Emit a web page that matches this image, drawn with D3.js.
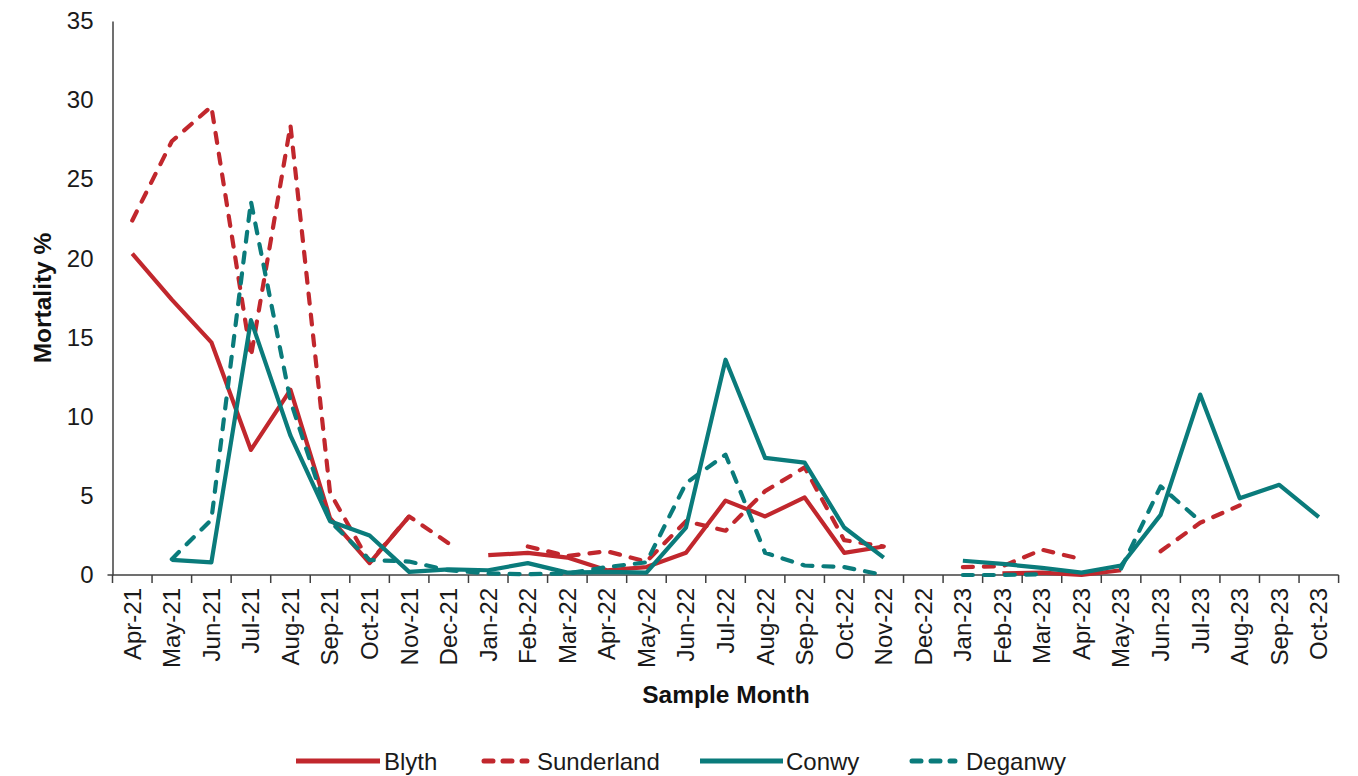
<!DOCTYPE html>
<html>
<head>
<meta charset="utf-8">
<script src="https://cdn.jsdelivr.net/npm/d3@7"></script>
<style>
  html, body { margin: 0; padding: 0; background: #fff; }
  svg { display: block; font-family: "Liberation Sans", Arial, sans-serif; }
</style>
</head>
<body>
<svg id="chart" width="1358" height="776"></svg>
<script>
const months = ["Apr-21","May-21","Jun-21","Jul-21","Aug-21","Sep-21","Oct-21","Nov-21","Dec-21",
  "Jan-22","Feb-22","Mar-22","Apr-22","May-22","Jun-22","Jul-22","Aug-22","Sep-22","Oct-22","Nov-22","Dec-22",
  "Jan-23","Feb-23","Mar-23","Apr-23","May-23","Jun-23","Jul-23","Aug-23","Sep-23","Oct-23"];

const blyth = [20.3,17.4,14.7,7.9,11.7,3.6,0.75,3.7,null,
  1.25,1.4,1.1,0.3,0.5,1.4,4.7,3.7,4.9,1.4,1.8,null,
  null,0.1,0.15,0.0,0.3,null,null,null,null,null];

const sunderland = [22.4,27.4,29.6,13.8,28.4,5.2,0.8,3.7,2.0,
  null,1.8,1.2,1.5,0.85,3.4,2.8,5.3,6.8,2.2,1.8,null,
  0.5,0.55,1.6,1.0,null,1.5,3.3,4.4,null,null];

const conwy = [null,0.95,0.8,16.1,8.8,3.4,2.5,0.2,0.35,
  0.3,0.75,0.15,0.2,0.15,3.0,13.6,7.4,7.1,3.0,1.1,null,
  0.9,0.7,0.45,0.15,0.6,3.8,11.4,4.85,5.7,3.65];

const deganwy = [null,1.0,3.5,23.6,11.0,3.4,0.95,0.85,0.3,
  0.1,0.05,0.1,0.5,0.8,5.8,7.6,1.4,0.6,0.5,0.0,null,
  0.0,0.0,0.05,null,0.4,5.6,3.4,null,null,null];

const yTicks = [0,5,10,15,20,25,30,35];

const RED = "#C1272D", TEAL = "#0A7B7B";
const seriesList = [
  {name: "Blyth", values: blyth, color: RED, dash: null},
  {name: "Sunderland", values: sunderland, color: RED, dash: "10,11"},
  {name: "Conwy", values: conwy, color: TEAL, dash: null},
  {name: "Deganwy", values: deganwy, color: TEAL, dash: "10,11"}
];

const svg = d3.select("#chart");
const plotLeft = 112.5, plotRight = 1338.6, plotTop = 21, plotBottom = 575;

const x = d3.scaleBand().domain(months).range([plotLeft, plotRight]).paddingInner(0).paddingOuter(0);
const y = d3.scaleLinear().domain([0, 35]).range([plotBottom, plotTop]);
const axisColor = "#404040";

// Y axis
const yAxis = svg.append("g").attr("transform", `translate(${plotLeft},0)`)
  .call(d3.axisLeft(y).tickValues(yTicks).tickSize(0).tickPadding(19));
yAxis.select(".domain").attr("stroke", axisColor).attr("stroke-width", 1.5);
yAxis.selectAll("text").attr("font-size", 24).attr("fill", "#1a1a1a")
  .attr("font-family", "Liberation Sans, Arial, sans-serif");

// X axis
const tickEdges = months.map(m => x(m)).concat([plotRight]);
const xAxis = svg.append("g").attr("transform", `translate(0,${plotBottom})`)
  .call(d3.axisBottom(x).tickSize(0).tickPadding(10));
xAxis.select(".domain").attr("stroke", axisColor).attr("stroke-width", 1.5)
  .attr("d", `M${plotLeft - 5},0H${plotRight}`);
xAxis.selectAll("text")
  .attr("font-size", 24).attr("fill", "#1a1a1a")
  .attr("font-family", "Liberation Sans, Arial, sans-serif")
  .attr("transform", "rotate(-90)")
  .attr("text-anchor", "end")
  .attr("dy", "0.35em")
  .attr("x", -13).attr("y", 0);
xAxis.selectAll(".edge").data(tickEdges).enter().append("line")
  .attr("class", "edge")
  .attr("x1", d => d).attr("x2", d => d)
  .attr("y1", 0).attr("y2", 8)
  .attr("stroke", axisColor).attr("stroke-width", 1.5);

// Lines
const line = d3.line()
  .defined(d => d.v !== null)
  .x(d => x(d.m) + x.bandwidth() / 2)
  .y(d => y(d.v));

seriesList.forEach(s => {
  const pts = months.map((m, i) => ({m, v: s.values[i]}));
  svg.append("path")
    .datum(pts)
    .attr("fill", "none")
    .attr("stroke", s.color)
    .attr("stroke-width", 4.2)
    .attr("stroke-linejoin", "round")
    .attr("stroke-linecap", s.dash ? "round" : "butt")
    .attr("stroke-dasharray", s.dash)
    .attr("d", line);
});

// Axis titles
svg.append("text")
  .attr("x", 726).attr("y", 703)
  .attr("text-anchor", "middle")
  .attr("font-size", 24.5).attr("font-weight", "bold").attr("fill", "#111")
  .text("Sample Month");

svg.append("text")
  .attr("transform", "translate(51,298) rotate(-90)")
  .attr("text-anchor", "middle")
  .attr("font-size", 24.5).attr("font-weight", "bold").attr("fill", "#111")
  .text("Mortality %");

// Legend
const legendItems = [
  {s: seriesList[0], x1: 296, x2: 380, tx: 384},
  {s: seriesList[1], x1: 484, x2: 527, tx: 537},
  {s: seriesList[2], x1: 700, x2: 783, tx: 786},
  {s: seriesList[3], x1: 912, x2: 955, tx: 966}
];
const lg = svg.append("g");
legendItems.forEach(it => {
  lg.append("line")
    .attr("x1", it.x1).attr("x2", it.x2).attr("y1", 761).attr("y2", 761)
    .attr("stroke", it.s.color).attr("stroke-width", 5)
    .attr("stroke-linecap", it.s.dash ? "round" : "butt")
    .attr("stroke-dasharray", it.s.dash ? "9,10" : null);
  lg.append("text")
    .attr("x", it.tx).attr("y", 770)
    .attr("font-size", 24).attr("fill", "#1a1a1a")
    .text(it.s.name);
});
</script>
</body>
</html>
